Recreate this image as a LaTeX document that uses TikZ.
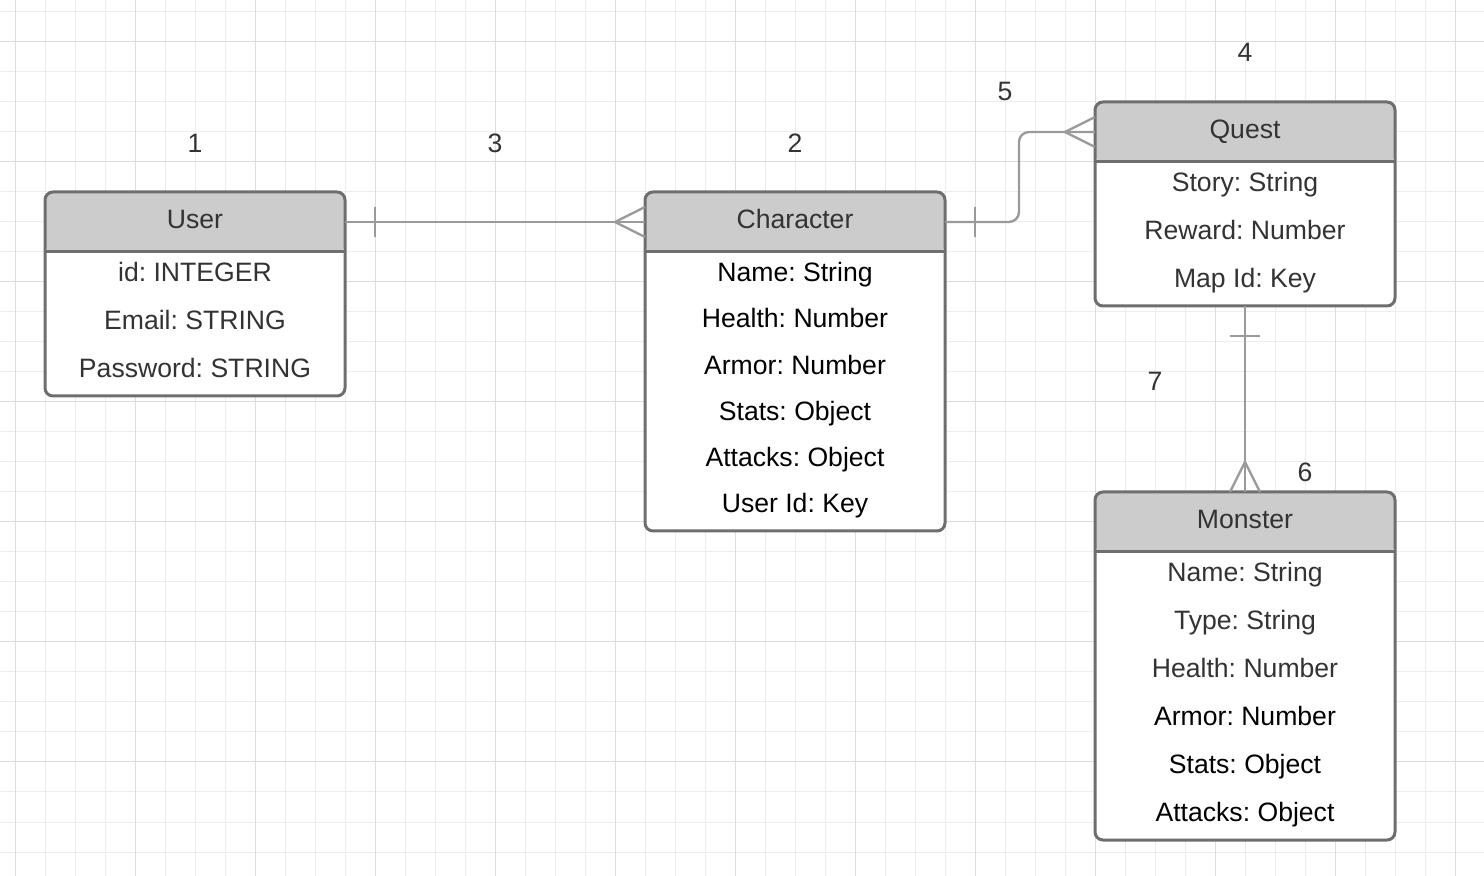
\documentclass[tikz,border=0pt]{standalone}
\usepackage{fontspec}
\setmainfont{Liberation Sans}
\frenchspacing
\definecolor{ink}{HTML}{333333}
\definecolor{headgray}{HTML}{CCCCCC}
\definecolor{boxline}{HTML}{6E6E6E}
\definecolor{relgray}{HTML}{9A9A9A}
\definecolor{gridminor}{HTML}{EDEDED}
\definecolor{gridmajor}{HTML}{DDDDDD}
\begin{document}
\begin{tikzpicture}[x=0.5pt, y=-0.5pt,
        txt/.style={font=\fontsize{13.3}{16}\selectfont},
        entity/.style={draw=boxline, line width=1.5pt, fill=white, rounded corners=4pt, minimum width=150pt, outer sep=0pt, inner sep=0pt, anchor=north,
            path picture={\fill[headgray] (path picture bounding box.north west) rectangle ([yshift=-30pt]path picture bounding box.north east);
                \draw[boxline, line width=1.5pt] ([yshift=-30pt]path picture bounding box.north west) -- ([yshift=-30pt]path picture bounding box.north east);}},
        head/.style={txt, text=ink, minimum width=150pt, minimum height=30pt, inner sep=0pt, outer sep=0pt, text height=6.5pt, text depth=0pt},
        field/.style={txt, text=#1, inner sep=0pt, anchor=base},
        num/.style={txt, text=ink, inner sep=0pt, anchor=base},
        rel/.style={draw=relgray, line width=1.2pt, line join=round}]
    \useasboundingbox (0,0) rectangle (1484,876);
    \foreach \x in {15,45,...,1484}
        \draw[gridminor, line width=0.5pt] (\x,0) -- (\x,876);
    \foreach \y in {12,42,...,876}
        \draw[gridminor, line width=0.5pt] (0,\y) -- (1484,\y);
    \foreach \x in {15,135,...,1484}
        \draw[gridmajor, line width=0.5pt] (\x,0) -- (\x,876);
    \foreach \y in {42,162,...,876}
        \draw[gridmajor, line width=0.5pt] (0,\y) -- (1484,\y);

    \node[entity, minimum height=102pt] (user) at (195,192) {};
    \node[head] (userhead) at (195,222) {User};
    \foreach \f [count=\i] in {id: INTEGER, Email: STRING, Password: STRING}
        \node[field=ink] (user-\i) at (195, 233.5+48*\i) {\f};

    \node[entity, minimum height=169.5pt] (character) at (795,192) {};
    \node[head] (characterhead) at (795,222) {Character};
    \foreach \f [count=\i] in {Name: String, Health: Number, Armor: Number, Stats: Object, Attacks: Object, User Id: Key}
        \node[field=black] (character-\i) at (795, 235.2+46.3*\i) {\f};

    \node[entity, minimum height=102pt] (quest) at (1245,102) {};
    \node[head] (questhead) at (1245,132) {Quest};
    \foreach \f [count=\i] in {Story: String, Reward: Number, Map Id: Key}
        \node[field=ink] (quest-\i) at (1245, 143.5+48*\i) {\f};

    \node[entity, minimum height=174pt] (monster) at (1245,492) {};
    \node[head] (monsterhead) at (1245,522) {Monster};
    \foreach \f/\c [count=\i] in {Name: String/ink, Type: String/ink, Health: Number/ink, Armor: Number/black, Stats: Object/black, Attacks: Object/black}
        \node[field=\c] (monster-\i) at (1245, 533.5+48*\i) {\f};

    \draw[rel] (userhead.east) -- (characterhead.west);
    \draw[rel] ([shift={(30,-15)}]userhead.east) -- ([shift={(30,15)}]userhead.east);
    \draw[rel] ([shift={(0,-15)}]characterhead.west) -- ([shift={(-30,0)}]characterhead.west) -- ([shift={(0,15)}]characterhead.west);

    \draw[rel, rounded corners=5pt] (characterhead.east) -- ++(74,0) |- (questhead.west);
    \draw[rel] ([shift={(30,-15)}]characterhead.east) -- ([shift={(30,15)}]characterhead.east);
    \draw[rel] ([shift={(0,-15)}]questhead.west) -- ([shift={(-30,0)}]questhead.west) -- ([shift={(0,15)}]questhead.west);

    \draw[rel] (quest.south) -- (monster.north);
    \draw[rel] ([shift={(-15,30)}]quest.south) -- ([shift={(15,30)}]quest.south);
    \draw[rel] ([shift={(-15,0)}]monster.north) -- ([shift={(0,-30)}]monster.north) -- ([shift={(15,0)}]monster.north);

    \node[num] (lab1) at (195,152.5) {1};
    \node[num] (lab2) at (795,152.5) {2};
    \node[num] (lab3) at (495,152.5) {3};
    \node[num] (lab4) at (1245,62) {4};
    \node[num] (lab5) at (1005,100.5) {5};
    \node[num] (lab6) at (1305,482) {6};
    \node[num] (lab7) at (1155,391) {7};
\end{tikzpicture}
\end{document}
